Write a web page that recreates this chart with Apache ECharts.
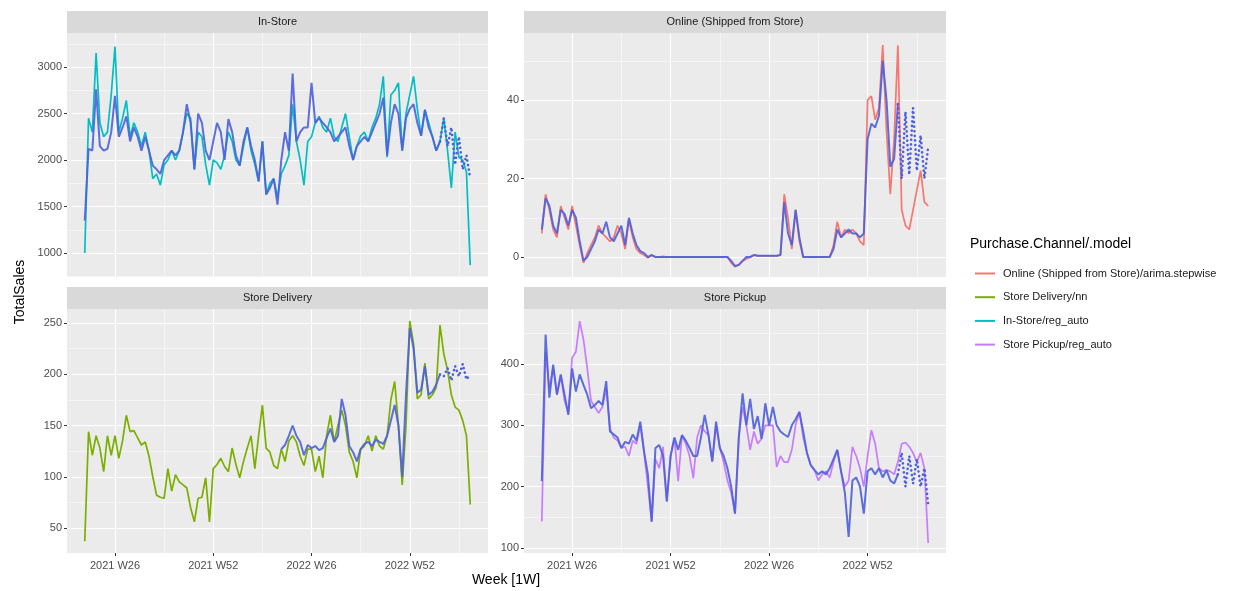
<!DOCTYPE html>
<html>
<head>
<meta charset="utf-8">
<script src="https://cdn.jsdelivr.net/npm/echarts@6/dist/echarts.min.js"></script>
<style>
  html, body { margin: 0; padding: 0; background: #ffffff; }
  #chart { width: 1249px; height: 591px; }
</style>
</head>
<body>
<div id="chart"></div>
<script>
// Weekly sales, week index counted from 2021 W1 = 0
const FIRST_WEEK = 17;       // first observed week
const FORECAST_WEEK = 111;   // last fitted week, forecast continues from here

const tickWeeks = [25, 51, 77, 103];
const tickLabels = ['2021 W26', '2021 W52', '2022 W26', '2022 W52'];
const minorWeeks = [12, 38, 64, 90, 116];

// In-Store
const inStoreActual = [
  1000, 2450, 2300, 3150, 2400, 2250, 2300, 2700, 3220, 2300,
  2450, 2640, 2250, 2400, 2300, 2150, 2300, 2100, 1800, 1850,
  1730, 1950, 2000, 2100, 2000, 2100, 2300, 2500, 2450, 1900,
  2300, 2250, 1950, 1730, 2000, 1970, 1900, 2050, 2300, 2200,
  2000, 1940, 2150, 2350, 2100, 1950, 1770, 2200, 1630, 1750,
  1800, 1600, 1850, 1940, 2050, 2600, 2200, 2000, 1730, 2200,
  2250, 2400, 2470, 2350, 2300, 2450, 2250, 2200, 2350, 2500,
  2250, 2000, 2150, 2260, 2300, 2200, 2350, 2450, 2600, 2900,
  2030, 2700, 2750, 2830, 2100, 2500, 2700, 2900, 2550, 2260,
  2540, 2400, 2250, 2100, 2200, 2450, 2100, 1700, 2300, 2030,
  2000, 1870, 870
];
const inStoreFitted = [
  1350, 2120, 2100, 2760, 2150, 2100, 2120, 2300, 2690, 2250,
  2350, 2470, 2200, 2350, 2250, 2100, 2250, 2100, 1940, 1900,
  1850, 2000, 2050, 2100, 2050, 2100, 2300, 2600, 2400, 1900,
  2500, 2400, 2100, 2000, 2200, 2400, 2300, 2000, 2440, 2300,
  2050, 1940, 2200, 2350, 2150, 2000, 1770, 2200, 1630, 1700,
  1800, 1520, 2000, 2300, 2100, 2930, 2200, 2300, 2350, 2350,
  2830, 2400, 2450, 2400, 2350, 2300, 2200, 2250, 2300, 2350,
  2150, 2000, 2150, 2200, 2250, 2200, 2300, 2400, 2500, 2670,
  2050, 2400, 2600, 2500, 2100, 2450, 2550, 2600, 2400, 2260,
  2540, 2350, 2250, 2100, 2200
];
const inStoreForecast = [2200, 2450, 2150, 2350, 1950, 2250, 1900, 2050, 1800];

// Online (Shipped from Store)
const onlineActual = [
  6, 16, 12, 7, 5, 13, 10, 7, 13, 8,
  3, -1.5, 1, 3, 5, 8, 6, 5, 4, 5,
  8, 6, 2, 9.5, 5, 2, 1, 0.5, -0.2, 0.5,
  0, 0, 0.2, 0, 0, 0, 0, 0, 0, 0,
  0, 0, 0, 0, 0, 0, 0, 0, 0, 0,
  -1.5, -2.5, -2, -1, -0.5, 0, 0.5, 0.3, 0.3, 0.3,
  0.3, 0.3, 0.3, 0.5, 16, 10, 2, 12, 4, 0,
  0, 0, 0, 0, 0, 0, 0, 3, 9, 5,
  7, 6, 7, 6, 4, 3, 40, 41, 35, 38,
  54, 32, 16, 30, 54, 12, 8, 7, 12, 17,
  22, 14, 13
];
const onlineFitted = [
  7, 15, 13, 8, 6, 12, 11, 8, 12, 10,
  4, -1, 0, 2, 4, 7, 6, 9, 5, 4,
  6, 8, 3, 10, 6, 3, 1.5, 1, 0, 0.5,
  0, 0, 0, 0, 0, 0, 0, 0, 0, 0,
  0, 0, 0, 0, 0, 0, 0, 0, 0, 0,
  -1, -2.3, -2, -1, 0, 0, 0.5, 0.3, 0.3, 0.3,
  0.3, 0.3, 0.3, 0.5, 14, 6, 3, 12, 5, 0,
  0, 0, 0, 0, 0, 0, 0, 2, 7, 5,
  6, 7, 6, 6, 5, 6, 30, 34, 33, 36,
  50, 40, 23, 25, 39
];
const onlineForecast = [39, 20, 37, 21, 38, 22, 31, 20, 28];

// Store Delivery (model fitted from week 69 on)
const DELIVERY_FIT_WEEK = 69;
const deliveryActual = [
  37, 144, 121, 140, 128, 105, 140, 121, 140, 118,
  135, 160, 144, 145, 138, 131, 134, 120, 100, 82,
  80, 79, 108, 86, 102, 95, 92, 89, 70, 56,
  79, 80, 99, 56, 108, 112, 118, 110, 105, 128,
  112, 99, 115, 128, 140, 108, 140, 170, 128, 124,
  111, 108, 127, 115, 135, 140, 134, 120, 111, 127,
  127, 105, 120, 99, 140, 160, 134, 150, 165, 150,
  124, 115, 99, 127, 130, 140, 125, 140, 130, 127,
  140, 175, 193, 150, 92, 150, 252, 230, 176, 180,
  211, 176, 180, 187, 248, 220, 204, 180, 168, 165,
  155, 140, 73
];
const deliveryFitted = [
  127, 131, 140, 150, 140, 134, 121, 131, 128, 130,
  126, 128, 138, 147, 134, 140, 176, 160, 130, 124,
  115, 127, 132, 134, 130, 136, 134, 132, 140, 155,
  170, 150, 100, 180, 245, 225, 182, 185, 208, 180,
  183, 190, 200
];
const deliveryForecast = [200, 198, 206, 194, 208, 198, 210, 195, 200];

// Store Pickup
const pickupActual = [
  143, 420, 360, 395, 350, 380, 340, 320, 410, 420,
  470, 440, 393, 340, 330, 320, 330, 360, 295, 280,
  275, 263, 265, 250, 275, 270, 300, 255, 200, 143,
  245, 230, 265, 176, 250, 280, 209, 284, 270, 250,
  214, 280, 300, 290, 284, 241, 300, 263, 240, 210,
  190, 156, 280, 330, 300, 260, 290, 270, 278, 300,
  300, 300, 232, 250, 240, 240, 260, 300, 322, 280,
  255, 235, 227, 210, 220, 225, 215, 240, 260, 225,
  200, 210, 265, 250, 230, 200, 250, 292, 270, 230,
  225, 227, 225, 220, 240, 270, 272, 265, 255, 240,
  255, 230, 108
];
const pickupFitted = [
  209, 448, 345, 399, 350, 383, 350, 317, 393, 355,
  383, 366, 350, 328, 333, 340, 333, 372, 290, 285,
  280, 263, 273, 270, 285, 275, 306, 257, 220, 143,
  263, 268, 250, 176, 250, 280, 260, 284, 275, 263,
  250, 250, 280, 317, 284, 241, 306, 263, 250, 230,
  200, 156, 280, 352, 300, 343, 294, 315, 278, 336,
  300, 330, 300, 290, 285, 281, 300, 310, 322, 290,
  255, 235, 227, 220, 225, 220, 230, 245, 260, 225,
  190, 118, 210, 215, 200, 156, 225, 230, 220, 230,
  215, 227, 210, 205, 220
];
const pickupForecast = [220, 255, 200, 250, 205, 245, 200, 230, 170];

// y-axis breaks per facet
const inStoreTicks = [1000, 1500, 2000, 2500, 3000];
const inStoreMinor = [750, 1250, 1750, 2250, 2750, 3250];
const onlineTicks = [0, 20, 40];
const onlineMinor = [10, 30, 50];
const deliveryTicks = [50, 100, 150, 200, 250];
const deliveryMinor = [75, 125, 175, 225];
const pickupTicks = [100, 200, 300, 400];
const pickupMinor = [150, 250, 350, 450];

const FIT_COLOR = '#4d5fdc';
const FONT = 'Liberation Sans, Arial, sans-serif';

const panels = [
  { title: 'In-Store', legend: 'In-Store/reg_auto', color: '#00BFC4',
    actual: inStoreActual, fitted: inStoreFitted, fitStart: FIRST_WEEK, forecast: inStoreForecast,
    ticks: inStoreTicks, minor: inStoreMinor, yMin: 742, yMax: 3366,
    box: { left: 67, top: 33, width: 421, height: 244 }, bottom: false },
  { title: 'Online (Shipped from Store)', legend: 'Online (Shipped from Store)/arima.stepwise', color: '#F8766D',
    actual: onlineActual, fitted: onlineFitted, fitStart: FIRST_WEEK, forecast: onlineForecast,
    ticks: onlineTicks, minor: onlineMinor, yMin: -5.1, yMax: 57.1,
    box: { left: 524, top: 33, width: 422, height: 244 }, bottom: false },
  { title: 'Store Delivery', legend: 'Store Delivery/nn', color: '#7CAE00',
    actual: deliveryActual, fitted: deliveryFitted, fitStart: DELIVERY_FIT_WEEK, forecast: deliveryForecast,
    ticks: deliveryTicks, minor: deliveryMinor, yMin: 25.6, yMax: 263.7,
    box: { left: 67, top: 309, width: 421, height: 244 }, bottom: true },
  { title: 'Store Pickup', legend: 'Store Pickup/reg_auto', color: '#C77CFF',
    actual: pickupActual, fitted: pickupFitted, fitStart: FIRST_WEEK, forecast: pickupForecast,
    ticks: pickupTicks, minor: pickupMinor, yMin: 91.8, yMax: 489.7,
    box: { left: 524, top: 309, width: 422, height: 244 }, bottom: true }
];

const X_MIN = 12.3, X_MAX = 123.7;
const STRIP_H = 22;

function pairs(start, values) {
  return values.map((v, i) => [start + i, v]);
}

const grids = [], xAxes = [], yAxes = [], series = [], graphics = [];

panels.forEach((p, i) => {
  grids.push({
    left: p.box.left, top: p.box.top, width: p.box.width, height: p.box.height,
    show: true, backgroundColor: '#EBEBEB', borderWidth: 0, containLabel: false
  });

  // major x breaks (labels + ticks + grid lines)
  xAxes.push({
    gridIndex: i, type: 'value', min: X_MIN, max: X_MAX, position: 'bottom',
    axisLine: { show: false },
    axisTick: { show: p.bottom, customValues: tickWeeks, length: 3,
      lineStyle: { color: '#333333', width: 1 } },
    axisLabel: { show: p.bottom, customValues: tickWeeks, color: '#4D4D4D',
      fontSize: 11, fontFamily: FONT, margin: 7,
      formatter: v => tickLabels[tickWeeks.indexOf(v)] || '' },
    splitLine: { show: true, lineStyle: { color: '#FFFFFF', width: 1.1 } },
    z: 1
  });
  // minor x grid lines
  xAxes.push({
    gridIndex: i, type: 'value', min: X_MIN, max: X_MAX, position: 'top',
    axisLine: { show: false },
    axisTick: { show: false, customValues: minorWeeks },
    axisLabel: { show: false, customValues: minorWeeks },
    splitLine: { show: true, lineStyle: { color: '#FFFFFF', width: 0.5 } },
    z: 0
  });

  yAxes.push({
    gridIndex: i, type: 'value', min: p.yMin, max: p.yMax, position: 'left',
    axisLine: { show: false },
    axisTick: { show: true, customValues: p.ticks, length: 3,
      lineStyle: { color: '#333333', width: 1 } },
    axisLabel: { show: true, customValues: p.ticks, color: '#4D4D4D',
      fontSize: 11, fontFamily: FONT, margin: 5, formatter: v => String(v) },
    splitLine: { show: true, lineStyle: { color: '#FFFFFF', width: 1.1 } },
    z: 1
  });
  yAxes.push({
    gridIndex: i, type: 'value', min: p.yMin, max: p.yMax, position: 'right',
    axisLine: { show: false },
    axisTick: { show: false, customValues: p.minor },
    axisLabel: { show: false, customValues: p.minor },
    splitLine: { show: true, lineStyle: { color: '#FFFFFF', width: 0.5 } },
    z: 0
  });

  const xi = i * 2, yi = i * 2;
  series.push({
    name: p.legend, type: 'line', xAxisIndex: xi, yAxisIndex: yi,
    data: pairs(FIRST_WEEK, p.actual), showSymbol: false, symbol: 'none',
    lineStyle: { color: p.color, width: 1.7 }, itemStyle: { color: p.color },
    z: 2, silent: true
  });
  series.push({
    name: p.title + ' fitted', type: 'line', xAxisIndex: xi, yAxisIndex: yi,
    data: pairs(p.fitStart, p.fitted), showSymbol: false, symbol: 'none',
    lineStyle: { color: FIT_COLOR, width: 2, opacity: 0.9 }, z: 3, silent: true
  });
  series.push({
    name: p.title + ' forecast', type: 'line', xAxisIndex: xi, yAxisIndex: yi,
    data: pairs(FORECAST_WEEK, p.forecast), showSymbol: false, symbol: 'none',
    lineStyle: { color: FIT_COLOR, width: 2.6, type: [0.1, 4.5], cap: 'round' },
    z: 3, silent: true
  });

  // facet strip
  graphics.push({
    type: 'rect', silent: true,
    shape: { x: p.box.left, y: p.box.top - STRIP_H, width: p.box.width, height: STRIP_H },
    style: { fill: '#D9D9D9' }
  });
  graphics.push({
    type: 'text', silent: true,
    x: p.box.left + p.box.width / 2, y: p.box.top - STRIP_H / 2,
    style: { text: p.title, fill: '#1A1A1A', fontSize: 11,
      fontFamily: FONT, align: 'center', verticalAlign: 'middle' }
  });
});

// axis titles
graphics.push({
  type: 'text', silent: true, x: 506, y: 580,
  style: { text: 'Week [1W]', fill: '#000000', fontSize: 14,
    fontFamily: FONT, align: 'center', verticalAlign: 'middle' }
});
graphics.push({
  type: 'text', silent: true, x: 20, y: 292, rotation: Math.PI / 2,
  style: { text: 'TotalSales', fill: '#000000', fontSize: 14,
    fontFamily: FONT, align: 'center', verticalAlign: 'middle' }
});
// legend title
graphics.push({
  type: 'text', silent: true, x: 970, y: 244,
  style: { text: 'Purchase.Channel/.model', fill: '#000000', fontSize: 14,
    fontFamily: FONT, align: 'left', verticalAlign: 'middle' }
});

const legendOrder = [panels[1].legend, panels[2].legend, panels[0].legend, panels[3].legend];

const chart = echarts.init(document.getElementById('chart'), null, { renderer: 'canvas' });
chart.setOption({
  animation: false,
  backgroundColor: '#FFFFFF',
  grid: grids,
  xAxis: xAxes,
  yAxis: yAxes,
  series: series,
  legend: {
    data: legendOrder, orient: 'vertical', left: 970, top: 263,
    itemWidth: 20, itemHeight: 2, itemGap: 12.7, icon: 'rect', selectedMode: false,
    textStyle: { fontSize: 11, color: '#1A1A1A', fontFamily: FONT,
      padding: [0, 0, 0, 3] }
  },
  graphic: graphics
});
</script>
</body>
</html>
